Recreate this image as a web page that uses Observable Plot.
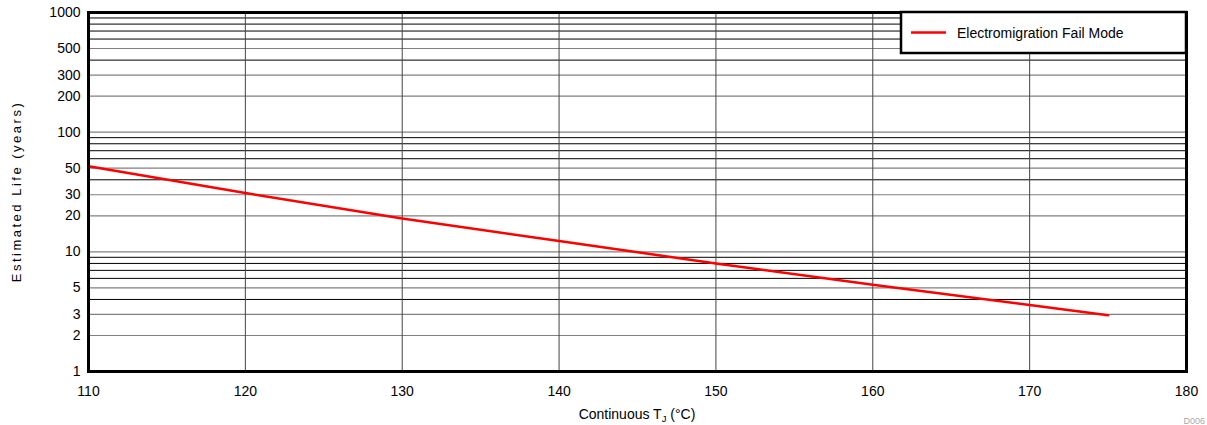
<!DOCTYPE html>
<html><head><meta charset="utf-8">
<script src="https://cdn.jsdelivr.net/npm/d3@7"></script>
<script src="https://cdn.jsdelivr.net/npm/@observablehq/plot@0.6"></script>
<style>body{margin:0;background:#fff} svg{display:block}</style>
</head><body><div id="chart"></div>
<script>
const temps = [110, 120, 130, 140, 150, 160, 170, 175];
const life = [52, 31, 19, 12.3, 8.0, 5.3, 3.6, 2.95];
const seriesName = "Electromigration Fail Mode";
const xTicks = [110, 120, 130, 140, 150, 160, 170, 180];
const yTicks = [1, 2, 3, 5, 10, 20, 30, 50, 100, 200, 300, 500, 1000];
const yMinor = [4, 6, 7, 8, 9, 40, 60, 70, 80, 90, 400, 600, 700, 800, 900];
const xTitle = "Continuous T";
const xTitleSub = "J";
const xTitleEnd = " (°C)";
const yTitle = "Estimated Life (years)";
const figId = "D006";

const data = temps.map((t, i) => ({t, v: life[i]}));
const W = 1207, H = 425, ml = 88, mr = 21, mt = 12, mb = 54;
const font = "'Liberation Sans', Arial, sans-serif";

const plot = Plot.plot({
  width: W, height: H, marginLeft: ml, marginRight: mr, marginTop: mt, marginBottom: mb,
  style: {fontFamily: font, fontSize: "14px", color: "#000", background: "#fff", overflow: "visible"},
  x: {domain: [110, 180], axis: null},
  y: {type: "log", domain: [1, 1000], axis: null},
  marks: [
    Plot.ruleY(yMinor, {stroke: "#000", strokeWidth: 1}),
    Plot.ruleY(yTicks.slice(1, -1), {stroke: "#808080", strokeWidth: 1.2}),
    Plot.ruleX(xTicks.slice(1, -1), {stroke: "#444", strokeWidth: 1}),
    Plot.line(data, {x: "t", y: "v", stroke: "#ff0000", strokeWidth: 2.5}),
    Plot.frame({stroke: "#000", strokeWidth: 3}),
    Plot.text(xTicks, {x: d => d, frameAnchor: "bottom", dy: 24, text: d => String(d), fontSize: 14, fill: "#000"}),
    Plot.text(yTicks, {y: d => d, frameAnchor: "left", dx: -8, textAnchor: "end", text: d => String(d), fontSize: 14, fill: "#000"})
  ]
});
document.getElementById("chart").appendChild(plot);

const svg = d3.select(plot);
// x title
const xt = svg.append("text").attr("x", (ml + W - mr) / 2).attr("y", 419)
  .attr("text-anchor", "middle").attr("font-family", font).attr("font-size", 14).attr("fill", "#000");
xt.append("tspan").text(xTitle);
xt.append("tspan").attr("font-size", 9.5).attr("dy", 3).text(xTitleSub);
xt.append("tspan").attr("dy", -3).text(xTitleEnd);
// y title
svg.append("text").attr("transform", `translate(21,${(mt + H - mb) / 2}) rotate(-90)`)
  .attr("text-anchor", "middle").attr("font-family", font).attr("font-size", 13)
  .attr("letter-spacing", 2.5).attr("fill", "#000").text(yTitle);
// legend
const lg = svg.append("g");
lg.append("rect").attr("x", 901).attr("y", 12).attr("width", 285).attr("height", 41)
  .attr("fill", "#fff").attr("stroke", "#000").attr("stroke-width", 2.5);
lg.append("line").attr("x1", 911).attr("x2", 946).attr("y1", 32.5).attr("y2", 32.5)
  .attr("stroke", "#ff0000").attr("stroke-width", 2.5);
lg.append("text").attr("x", 957).attr("y", 38).attr("text-anchor", "start").attr("font-family", font).attr("font-size", 14)
  .attr("fill", "#000").text(seriesName);
// figure id
svg.append("text").attr("x", 1205).attr("y", 424).attr("text-anchor", "end").attr("font-family", font).attr("font-size", 9)
  .attr("fill", "#aaa").text(figId);
</script></body></html>
